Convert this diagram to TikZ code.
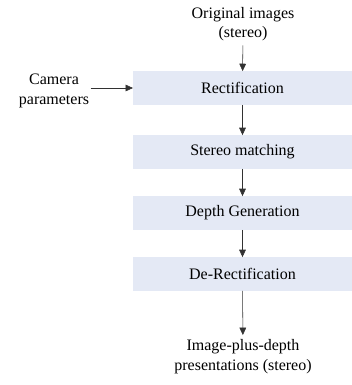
\documentclass[tikz,border=0pt]{standalone}
\usepackage{fontspec}
\setmainfont{Liberation Serif}
\usetikzlibrary{arrows.meta,positioning}
\definecolor{stageBlue}{RGB}{228,233,245}
\definecolor{flowGrey} {RGB}{50,50,50}

\begin{document}
\begin{tikzpicture}[x=0.75pt,y=-0.75pt,
    font=\fontsize{12}{14}\selectfont,
    stagebox/.style={fill=stageBlue,minimum width=164pt,minimum height=25pt,
                     inner sep=0pt},
    flow/.style={-{Triangle[length=5.5pt,width=5pt]},flowGrey,line width=0.4pt}]

    \useasboundingbox (0,0) rectangle (352,385);

    % input and output texts
    \node[align=center] (orig) at (243,24) {Original images\\(stereo)};
    \node[align=center,font=\fontsize{12}{15}\selectfont,inner sep=1pt]
      (cam) at (54,91) {Camera\\parameters};
    \node[align=center,font=\fontsize{12}{15}\selectfont]
      (out) at (243,357) {Image-plus-depth\\presentations (stereo)};

    % processing stages
    \foreach \n/\y/\txt in {rect/88/Rectification, match/152/Stereo matching,
                            depth/213/Depth Generation, derect/274/De-Rectification}{
      \node[stagebox] (\n) at (242.5,\y) {\txt};
    }

    \draw[flow] (orig) -- (rect);
    \draw[flow] (cam.east |- rect) -- (rect);
    \draw[flow] (rect) -- (match);
    \draw[flow] (match) -- (depth);
    \draw[flow] (depth) -- (derect);
    \draw[flow] (derect) -- (out);

  \end{tikzpicture}
\end{document}
